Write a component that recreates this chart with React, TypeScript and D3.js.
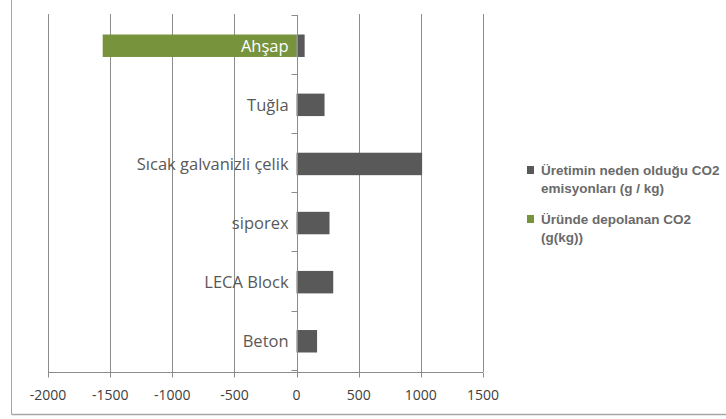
import * as d3 from "d3";
import { useEffect, useRef } from "react";

const categories = ["Ahşap", "Tuğla", "Sıcak galvanizli çelik", "siporex", "LECA Block", "Beton"];
const emissions = [65, 225, 1010, 265, 295, 165];
const stored = [-1560, 0, 0, 0, 0, 0];
const xTicks = [-2000, -1500, -1000, -500, 0, 500, 1000, 1500];
const legendItems = [
  { lines: ["Üretimin neden olduğu CO2", "emisyonları (g / kg)"], color: "#595959" },
  { lines: ["Üründe depolanan CO2", "(g(kg))"], color: "#77933c" },
];

export default function App() {
  const ref = useRef<SVGSVGElement>(null);

  useEffect(() => {
    if (!ref.current) return;
    const svg = d3.select(ref.current);
    svg.selectAll("*").remove();

    const width = 726;
    const height = 419;
    svg.attr("width", width).attr("height", height);

    const x = d3.scaleLinear().domain([-2000, 1500]).range([48, 483]);
    const y = d3.scaleBand<string>().domain(categories).range([15, 372]).paddingInner(0.62).paddingOuter(0.33);

    // chart frame (left + bottom edges visible)
    svg.append("line").attr("x1", 11.5).attr("x2", 11.5).attr("y1", 0).attr("y2", 414.5)
      .attr("stroke", "#a6a6a6").attr("stroke-width", 1);
    svg.append("line").attr("x1", 11.5).attr("x2", width).attr("y1", 414.5).attr("y2", 414.5)
      .attr("stroke", "#a6a6a6").attr("stroke-width", 1.5);

    // gridlines
    svg.append("g").selectAll("line")
      .data(xTicks.filter(t => t !== 0))
      .enter().append("line")
      .attr("x1", d => Math.round(x(d)) + 0.5)
      .attr("x2", d => Math.round(x(d)) + 0.5)
      .attr("y1", 14).attr("y2", 372)
      .attr("stroke", "#8c8c8c").attr("stroke-width", 1);

    // bars
    const bars = svg.append("g");
    categories.forEach((c, i) => {
      if (stored[i] !== 0) {
        bars.append("rect")
          .attr("x", x(stored[i])).attr("y", y(c)!)
          .attr("width", x(0) - x(stored[i])).attr("height", y.bandwidth())
          .attr("fill", "#77933c");
      }
      bars.append("rect")
        .attr("x", x(0)).attr("y", y(c)!)
        .attr("width", x(emissions[i]) - x(0)).attr("height", y.bandwidth())
        .attr("fill", "#595959");
    });

    // x axis
    const axisY = 372.5;
    svg.append("line").attr("x1", x(-2000)).attr("x2", x(1500)).attr("y1", axisY).attr("y2", axisY)
      .attr("stroke", "#8c8c8c");
    const xt = svg.append("g").selectAll("g").data(xTicks).enter().append("g");
    xt.append("line")
      .attr("x1", d => Math.round(x(d)) + 0.5).attr("x2", d => Math.round(x(d)) + 0.5)
      .attr("y1", axisY).attr("y2", axisY + 5)
      .attr("stroke", "#8c8c8c");
    xt.append("text")
      .attr("x", d => x(d)).attr("y", 400)
      .attr("text-anchor", "middle")
      .attr("font-family", "Open Sans, sans-serif").attr("font-size", "14px")
      .attr("fill", "#404040")
      .text(d => d);

    // y axis at zero
    const x0 = Math.round(x(0)) + 0.5;
    svg.append("line").attr("x1", x0).attr("x2", x0).attr("y1", 15).attr("y2", 372)
      .attr("stroke", "#8c8c8c");
    const bounds = d3.range(categories.length + 1).map(i => 15 + i * y.step());
    svg.append("g").selectAll("line").data(bounds).enter().append("line")
      .attr("x1", x0 - 6).attr("x2", x0)
      .attr("y1", d => Math.round(d) + 0.5).attr("y2", d => Math.round(d) + 0.5)
      .attr("stroke", "#8c8c8c");

    svg.append("g").selectAll("text").data(categories).enter().append("text")
      .attr("x", x(0) - 8)
      .attr("y", d => y(d)! + y.bandwidth() / 2)
      .attr("dy", "0.36em")
      .attr("text-anchor", "end")
      .attr("font-family", "Open Sans, sans-serif").attr("font-size", "16.5px")
      .attr("fill", (d, i) => (stored[i] !== 0 ? "#ffffff" : "#595959"))
      .text(d => d);

    // legend
    const legend = svg.append("g").attr("transform", "translate(527, 166)");
    legendItems.forEach((item, i) => {
      const g = legend.append("g").attr("transform", `translate(0, ${i * 49})`);
      g.append("rect").attr("x", 0).attr("y", 0).attr("width", 7).attr("height", 8).attr("fill", item.color);
      item.lines.forEach((line, j) => {
        g.append("text")
          .attr("x", 14).attr("y", 9 + j * 17.5)
          .attr("font-family", "Liberation Sans, Arial, sans-serif").attr("font-size", "13.5px")
          .attr("font-weight", "bold")
          .attr("fill", "#6a6a6a")
          .text(line);
      });
    });
  }, []);

  return <svg ref={ref} style={{ position: "absolute", left: 0, top: 0, background: "#fff" }} />;
}
